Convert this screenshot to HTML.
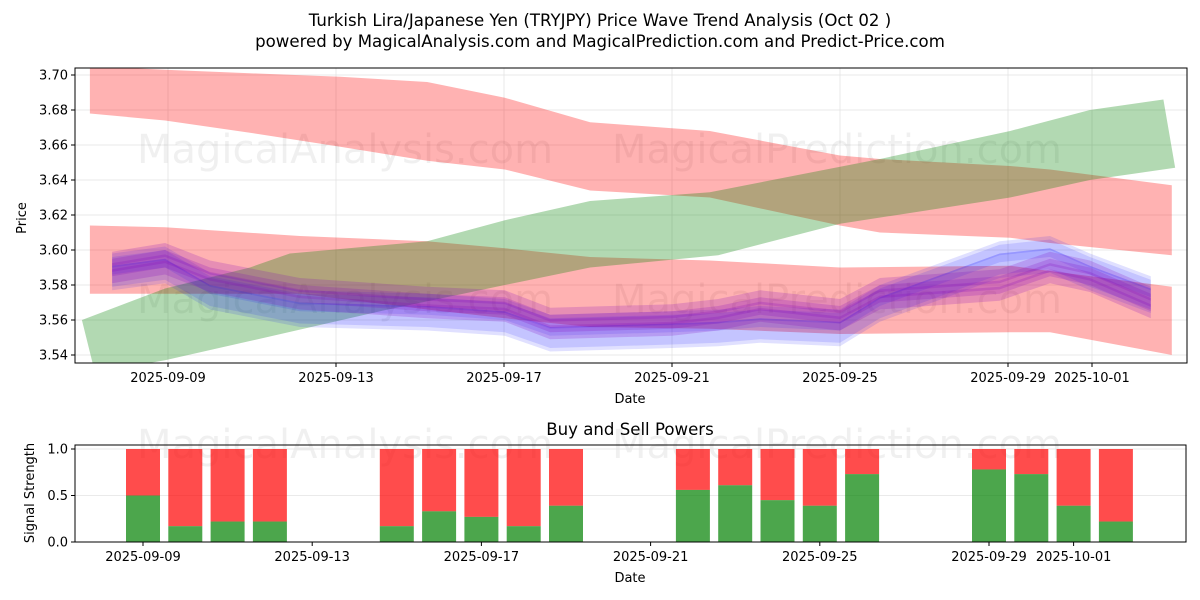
<!DOCTYPE html>
<html><head><meta charset="utf-8"><style>
body{margin:0;background:#fff}
svg{display:block;font-family:"DejaVu Sans","Liberation Sans",sans-serif}
</style></head><body>
<svg id="chart" width="1200" height="600" viewBox="0 0 1200 600">
<text x="600" y="26" text-anchor="middle" font-size="16.6">Turkish Lira/Japanese Yen (TRYJPY) Price Wave Trend Analysis (Oct 02 )</text>
<text x="600" y="47" text-anchor="middle" font-size="16.6">powered by MagicalAnalysis.com and MagicalPrediction.com and Predict-Price.com</text>
<defs>
<clipPath id="clipTop"><rect x="75" y="68" width="1112" height="295"/></clipPath>
</defs>
<g id="topPanel"></g>
<g id="bottomPanel"></g>
</svg>
<script>
// ---- price panel data (days from 2025-09-09) ----
const redADays=[-1.86,-0.07,1.95,4.1,6.17,8.02,10.05,12.9,16,16.95,20.05,21,23.9];
const redAUpper=[3.705,3.703,3.701,3.699,3.696,3.687,3.673,3.668,3.654,3.652,3.648,3.646,3.637];
const redALower=[3.678,3.674,3.667,3.659,3.651,3.646,3.634,3.630,3.614,3.610,3.607,3.604,3.597];
const redBDays=[-1.86,-0.07,3.14,6.17,8.02,10.05,12.9,16,20.05,21,23.9];
const redBUpper=[3.614,3.613,3.608,3.605,3.601,3.596,3.594,3.590,3.591,3.588,3.579];
const redBLower=[3.575,3.575,3.575,3.566,3.561,3.556,3.555,3.552,3.553,3.553,3.540];
const greenUpperDays=[-2.05,-0.07,1.95,2.9,6.17,8.02,10.05,12.9,16.95,20.05,21.95,23.7];
const greenUpper=[3.560,3.578,3.590,3.598,3.605,3.617,3.628,3.633,3.652,3.668,3.680,3.686];
const greenLowerDays=[-2.05,-1.74,-0.07,1.95,5.05,8.02,10.05,13.1,16,20.05,21.95,23.98];
const greenLower=[3.560,3.530,3.537,3.548,3.565,3.580,3.590,3.597,3.615,3.630,3.640,3.647];
const waveDays=[-1.33,-0.07,1,3.14,6.17,8.02,9.1,12,13.1,14.1,16,16.95,19.8,21,21.95,23.4];
const purpleWave=[3.590,3.595,3.585,3.575,3.570,3.568,3.558,3.560,3.563,3.568,3.563,3.575,3.580,3.590,3.585,3.570];
const blueWave=[3.588,3.592,3.577,3.567,3.565,3.562,3.553,3.555,3.556,3.558,3.556,3.570,3.595,3.598,3.588,3.575];
const priceTicks=[3.54,3.56,3.58,3.60,3.62,3.64,3.66,3.68,3.70];
const dateTickDays=[0,4,8,12,16,20,22];
const dateTickLabels=["2025-09-09","2025-09-13","2025-09-17","2025-09-21","2025-09-25","2025-09-29","2025-10-01"];
// ---- signal panel data ----
const barDays=[0,1,2,3,6,7,8,9,10,13,14,15,16,17,20,21,22,23];
const buyPower=[0.5,0.17,0.22,0.22,0.17,0.33,0.27,0.17,0.39,0.56,0.61,0.45,0.39,0.73,0.78,0.73,0.39,0.22];
const signalTicks=[0,0.5,1.0];
const signalTickLabels=["0.0","0.5","1.0"];

const NS="http://www.w3.org/2000/svg";
function mk(tag,attrs,parent){const e=document.createElementNS(NS,tag);for(const k in attrs)e.setAttribute(k,attrs[k]);parent.appendChild(e);return e;}
const xT=d=>168+42*d, yT=v=>355-(v-3.54)*1750;
const xB=d=>143+42.3*d, yB=v=>542-v*93;
const topG=document.getElementById('topPanel'), botG=document.getElementById('bottomPanel');

priceTicks.forEach(v=>{const l=mk('line',{x1:75,x2:1187,y1:yT(v),y2:yT(v),stroke:'#e3e3e3','stroke-width':0.8},topG);

});
dateTickDays.forEach(d=>{const l=mk('line',{x1:xT(d),x2:xT(d),y1:68,y2:363,stroke:'#e3e3e3','stroke-width':0.8},topG);

});
[[345,163,'MagicalAnalysis.com'],[837,163,'MagicalPrediction.com'],[345,313,'MagicalAnalysis.com'],[837,313,'MagicalPrediction.com'],[345,458,'MagicalAnalysis.com'],[837,458,'MagicalPrediction.com']].forEach(w=>{
const t=mk('text',{x:w[0],y:w[1],'text-anchor':'middle','font-size':40,fill:'#000','fill-opacity':0.06},topG);t.textContent=w[2];

});

const g=mk('g',{'clip-path':'url(#clipTop)'},topG);
function band(du,up,dl,lo,fill,op,name){
 let pts=du.map((d,i)=>xT(d)+','+yT(up[i]));
 for(let i=dl.length-1;i>=0;i--)pts.push(xT(dl[i])+','+yT(lo[i]));
 const p=mk('polygon',{points:pts.join(' '),fill:fill,'fill-opacity':op},g);
 
 
}
band(redADays,redAUpper,redADays,redALower,'#ff0000',0.3,'red-band-upper');
band(redBDays,redBUpper,redBDays,redBLower,'#ff0000',0.3,'red-band-lower');
band(greenUpperDays,greenUpper,greenLowerDays,greenLower,'#008000',0.3,'green-band');
function wave(vals,off,w,fill,op,name){
 const up=vals.map(v=>v+off+w), lo=vals.map(v=>v+off-w);
 band(waveDays,up,waveDays,lo,fill,op,name);
}
[[-0.007,0.004],[0.006,0.004],[-0.003,0.006],[0.003,0.005],[0,0.003]].forEach(o=>wave(blueWave,o[0],o[1],'#0000ff',0.12,'blue-wave'));
[[-0.005,0.004],[0.005,0.004],[0,0.005],[0,0.0025]].forEach(o=>wave(purpleWave,o[0],o[1],'#8000c0',0.2,'purple-wave'));

const fr=mk('rect',{x:75,y:68,width:1112,height:295,fill:'none',stroke:'#000','stroke-width':1},topG);


priceTicks.forEach(v=>{mk('line',{x1:71,x2:75,y1:yT(v),y2:yT(v),stroke:'#000'},topG);
const t=mk('text',{x:68,y:yT(v)+4.5,'text-anchor':'end','font-size':13},topG);t.textContent=v.toFixed(2);

});
dateTickDays.forEach((d,i)=>{mk('line',{x1:xT(d),x2:xT(d),y1:363,y2:367,stroke:'#000'},topG);
const t=mk('text',{x:xT(d),y:382,'text-anchor':'middle','font-size':13},topG);t.textContent=dateTickLabels[i];

});
let tx=mk('text',{x:630,y:403,'text-anchor':'middle','font-size':13},topG);tx.textContent='Date';


tx=mk('text',{x:26,y:218,'text-anchor':'middle','font-size':13,transform:'rotate(-90 26 218)'},topG);tx.textContent='Price';



tx=mk('text',{x:630,y:435,'text-anchor':'middle','font-size':16.6},botG);tx.textContent='Buy and Sell Powers';


signalTicks.forEach((v,i)=>{const l=mk('line',{x1:75,x2:1187,y1:yB(v),y2:yB(v),stroke:'#e3e3e3','stroke-width':0.8},botG);


mk('line',{x1:71,x2:75,y1:yB(v),y2:yB(v),stroke:'#000'},botG);
const tt=mk('text',{x:68,y:yB(v)+4.5,'text-anchor':'end','font-size':13},botG);tt.textContent=signalTickLabels[i];

});
barDays.forEach((d,i)=>{const x=xB(d)-17;
const r=mk('rect',{x:x,y:yB(1),width:34,height:yB(buyPower[i])-yB(1),fill:'#ff0000','fill-opacity':0.7},botG);


const gr=mk('rect',{x:x,y:yB(buyPower[i]),width:34,height:yB(0)-yB(buyPower[i]),fill:'#008000','fill-opacity':0.7},botG);

});
const fr2=mk('rect',{x:75,y:445,width:1111,height:97,fill:'none',stroke:'#000','stroke-width':1},botG);


dateTickDays.forEach((d,i)=>{mk('line',{x1:xB(d),x2:xB(d),y1:542,y2:546,stroke:'#000'},botG);
const tt=mk('text',{x:xB(d),y:561,'text-anchor':'middle','font-size':13},botG);tt.textContent=dateTickLabels[i];

});
tx=mk('text',{x:630,y:582,'text-anchor':'middle','font-size':13},botG);tx.textContent='Date';


tx=mk('text',{x:34,y:493,'text-anchor':'middle','font-size':13,transform:'rotate(-90 34 493)'},botG);tx.textContent='Signal Strength';


</script>
</body></html>
